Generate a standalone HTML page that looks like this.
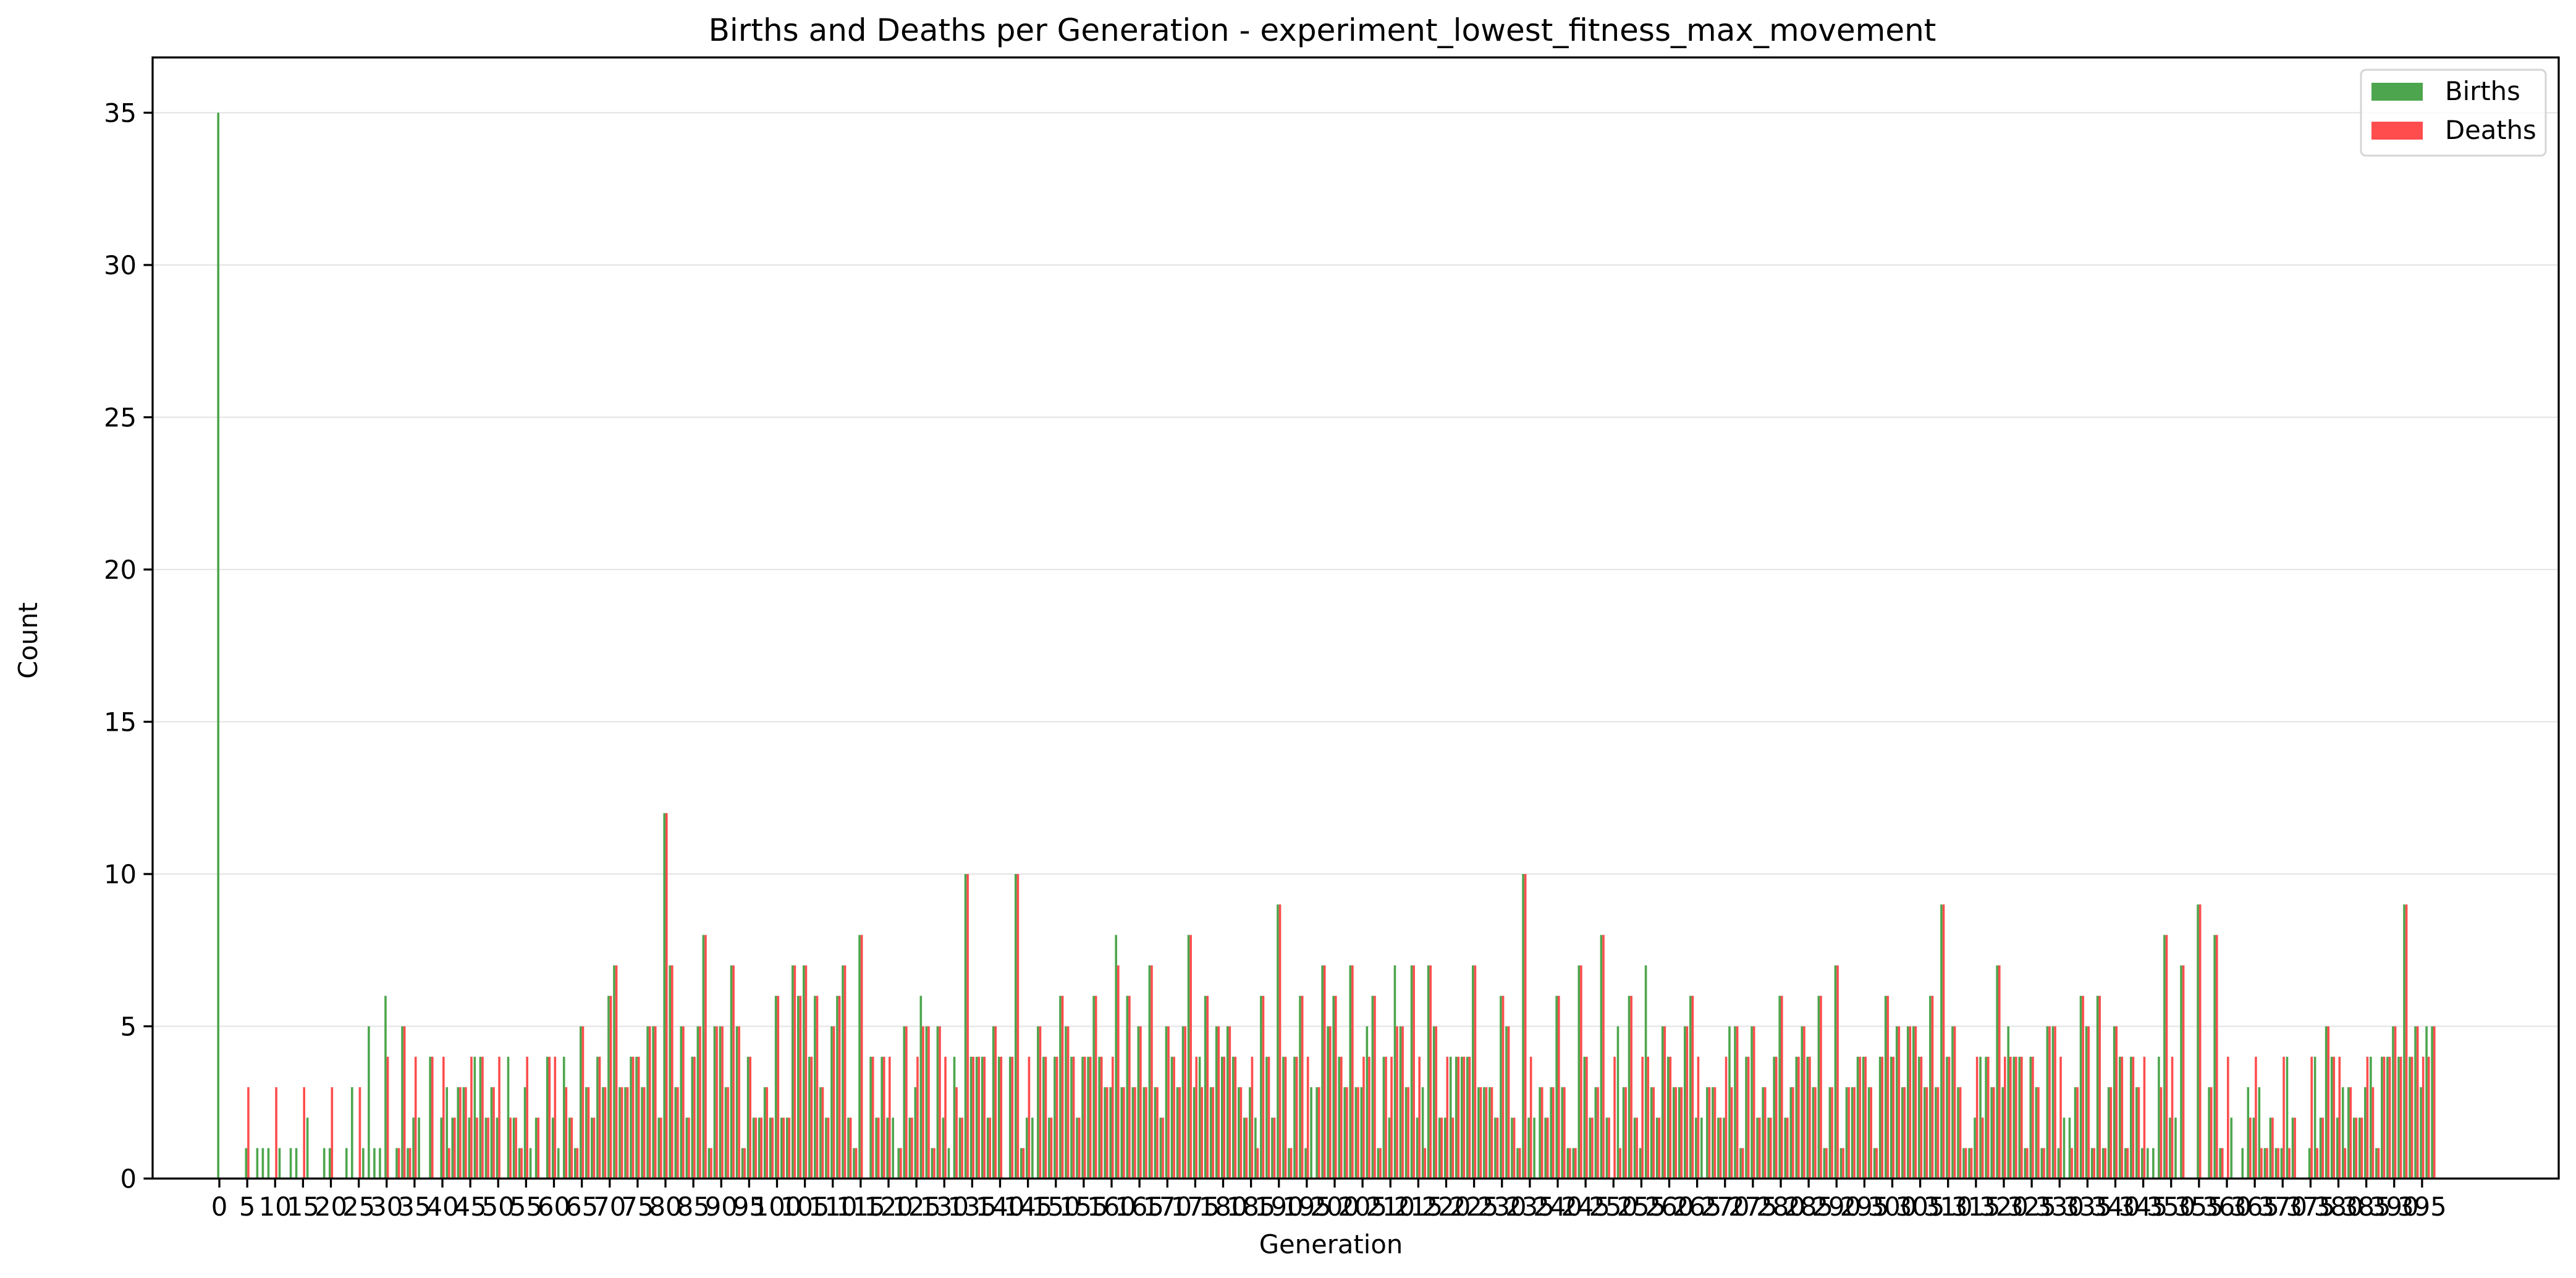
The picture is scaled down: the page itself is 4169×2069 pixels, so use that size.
<!DOCTYPE html>
<html>
<head>
<meta charset="utf-8">
<style>
html,body{margin:0;padding:0;background:#fff;}
svg{display:block;font-family:"DejaVu Sans","Liberation Sans",sans-serif;}
</style>
</head>
<body>
<svg id="chart" xmlns="http://www.w3.org/2000/svg" width="4169" height="2069" viewBox="0 0 4169 2069">
  <rect x="0" y="0" width="4169" height="2069" fill="#ffffff"/>
  <text x="2140" y="66" font-size="50" text-anchor="middle" fill="#000">Births and Deaths per Generation - experiment_lowest_fitness_max_movement</text>
  <g id="grid"></g>
  <g id="bars"></g>
  <g id="axes"></g>
  <text x="2154" y="2029" font-size="41.7" text-anchor="middle" fill="#000">Generation</text>
  <text x="0" y="0" font-size="41.7" text-anchor="middle" fill="#000" transform="translate(60,1037) rotate(-90)">Count</text>
  <g>
    <rect x="3821" y="113" width="299" height="139" rx="8" ry="8" fill="#ffffff" fill-opacity="0.8" stroke="#d5d5d5" stroke-width="3"/>
    <rect x="3838" y="134" width="83" height="29" fill="#4da64d"/>
    <text x="3957" y="162" font-size="41.7" fill="#000">Births</text>
    <rect x="3838" y="197" width="83" height="29" fill="#ff4d4d"/>
    <text x="3957" y="225" font-size="41.7" fill="#000">Deaths</text>
  </g>
</svg>
<script>
const births = [
35,0,0,0,0,1,0,1,1,1,
0,1,0,1,1,0,2,0,0,1,
1,0,0,1,3,0,1,5,1,1,
6,0,1,5,1,2,2,0,4,0,
2,3,2,3,3,2,4,4,2,3,
2,0,4,2,1,3,1,2,0,4,
2,1,4,2,1,5,3,2,4,3,
6,7,3,3,4,4,3,5,5,2,
12,7,3,5,2,4,5,8,1,5,
5,3,7,5,1,4,2,2,3,2,
6,2,2,7,6,7,4,6,3,2,
5,6,7,2,1,8,0,4,2,4,
2,2,1,5,2,3,6,5,1,5,
2,1,4,2,10,4,4,4,2,5,
4,0,4,10,1,2,2,5,4,2,
4,6,5,4,2,4,4,6,4,3,
3,8,3,6,3,5,3,7,3,2,
5,4,3,5,8,3,4,6,3,5,
4,5,4,3,2,3,2,6,4,2,
9,4,1,4,6,1,3,3,7,5,
6,4,3,7,3,3,5,6,1,4,
2,7,5,3,7,2,3,7,5,2,
2,4,4,4,4,7,3,3,3,2,
6,5,2,1,10,2,2,3,2,3,
6,3,1,1,7,4,2,3,8,2,
0,5,3,6,2,1,7,3,2,5,
4,3,3,5,6,2,2,3,3,2,
2,5,5,1,4,5,2,3,2,4,
6,2,3,4,5,4,3,6,1,3,
7,1,3,3,4,4,3,1,4,6,
4,5,3,5,5,4,3,6,3,9,
4,5,3,1,1,2,4,4,3,7,
3,5,4,4,1,4,3,1,5,5,
1,2,2,3,6,5,1,6,1,3,
5,4,1,4,3,1,1,1,4,8,
2,2,7,0,0,9,0,3,8,1,
0,2,0,1,3,2,3,1,2,1,
1,4,2,0,0,1,4,2,5,4,
2,3,3,2,2,3,4,1,4,4,
5,4,9,4,5,3,5,5
];
const deaths = [
0,0,0,0,0,3,0,0,0,0,
3,0,0,0,0,3,0,0,0,0,
3,0,0,0,0,3,0,0,0,0,
4,0,1,5,1,4,0,0,4,0,
4,1,2,3,3,4,2,4,2,3,
4,0,2,2,1,4,0,2,0,4,
4,0,3,2,1,5,3,2,4,3,
6,7,3,3,4,4,3,5,5,2,
12,7,3,5,2,4,5,8,1,5,
5,3,7,5,1,4,2,2,3,2,
6,2,2,7,6,7,4,6,3,2,
5,6,7,2,1,8,0,4,2,4,
4,0,1,5,2,4,5,5,1,5,
4,0,3,2,10,4,4,4,2,5,
4,0,4,10,1,4,0,5,4,2,
4,6,5,4,2,4,4,6,4,3,
4,7,3,6,3,5,3,7,3,2,
5,4,3,5,8,4,3,6,3,5,
4,5,4,3,2,4,1,6,4,2,
9,4,1,4,6,4,0,3,7,5,
6,4,3,7,3,4,4,6,1,4,
4,5,5,3,7,4,1,7,5,2,
4,2,4,4,4,7,3,3,3,2,
6,5,2,1,10,4,0,3,2,3,
6,3,1,1,7,4,2,3,8,2,
4,1,3,6,2,4,4,3,2,5,
4,3,3,5,6,4,0,3,3,2,
4,3,5,1,4,5,2,3,2,4,
6,2,3,4,5,4,3,6,1,3,
7,1,3,3,4,4,3,1,4,6,
4,5,3,5,5,4,3,6,3,9,
4,5,3,1,1,4,2,4,3,7,
4,4,4,4,1,4,3,1,5,5,
4,0,1,3,6,5,1,6,1,3,
5,4,1,4,3,4,0,0,3,8,
4,0,7,0,0,9,0,3,8,1,
4,0,0,0,2,4,1,1,2,1,
4,1,2,0,0,4,1,2,5,4,
4,1,3,2,2,4,3,1,4,4,
5,4,9,4,5,4,4,5
];
const xTickLabels = [];
for (let t = 0; t <= 395; t += 5) xTickLabels.push(t);
const yTickLabels = [0,5,10,15,20,25,30,35];

const NS = "http://www.w3.org/2000/svg";
const plotLeft = 247, plotRight = 4141, plotTop = 93, plotBottom = 1908;
const gen0X = 355, genStep = 9.025, unitY = 49.3;
function xScale(g){ return gen0X + g * genStep; }
function yScale(v){ return plotBottom - v * unitY; }
const barW = 0.4 * genStep;

function mk(tag, attrs){
  const el = document.createElementNS(NS, tag);
  for (const k in attrs) el.setAttribute(k, attrs[k]);
  return el;
}

const grid = document.getElementById('grid');
yTickLabels.forEach(v => {
  const ln = mk('line', {x1: plotLeft, x2: plotRight, y1: yScale(v), y2: yScale(v), stroke: '#e3e3e3', 'stroke-width': 2});
  
  
  grid.appendChild(ln);
});

const bars = document.getElementById('bars');
births.forEach((v, i) => {
  if (v <= 0) return;
  const r = mk('rect', {x: xScale(i) - barW, y: yScale(v), width: barW, height: yScale(0) - yScale(v), fill: '#4da64d'});
  
  
  bars.appendChild(r);
});
deaths.forEach((v, i) => {
  if (v <= 0) return;
  const r = mk('rect', {x: xScale(i), y: yScale(v), width: barW, height: yScale(0) - yScale(v), fill: '#ff4d4d'});
  
  
  bars.appendChild(r);
});

const axes = document.getElementById('axes');
const frame = mk('rect', {x: plotLeft, y: plotTop, width: plotRight - plotLeft, height: plotBottom - plotTop, fill: 'none', stroke: '#000', 'stroke-width': 3.3});


axes.appendChild(frame);

yTickLabels.forEach(v => {
  const y = yScale(v);
  const tk = mk('line', {x1: plotLeft - 14.6, x2: plotLeft, y1: y, y2: y, stroke: '#000', 'stroke-width': 3.3});
  
  
  axes.appendChild(tk);
  const tx = mk('text', {x: plotLeft - 26, y: y + 15, 'font-size': 41.7, 'text-anchor': 'end', fill: '#000'});
  tx.textContent = String(v);
  
  
  axes.appendChild(tx);
});

xTickLabels.forEach(g => {
  const x = xScale(g);
  const tk = mk('line', {x1: x, x2: x, y1: plotBottom, y2: plotBottom + 14.6, stroke: '#000', 'stroke-width': 3.3});
  
  
  axes.appendChild(tk);
  const tx = mk('text', {x: x, y: plotBottom + 60, 'font-size': 41.7, 'text-anchor': 'middle', fill: '#000'});
  tx.textContent = String(g);
  
  
  axes.appendChild(tx);
});
</script>
</body>
</html>
